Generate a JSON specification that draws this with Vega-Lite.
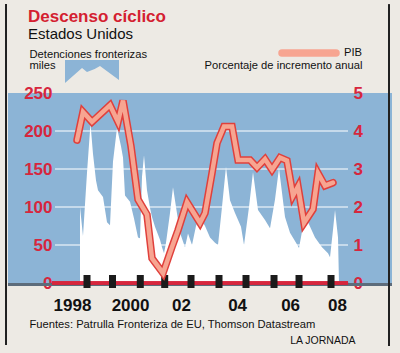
{
  "$schema": "https://vega.github.io/schema/vega-lite/v6.json",
  "width": 384,
  "height": 190,
  "autosize": {"type": "none"},
  "padding": {"left": 8, "top": 93, "right": 8, "bottom": 70},
  "background": "#edeae4",
  "config": {"view": {"fill": "#8cb4d6", "stroke": null}, "font": "Liberation Sans"},
  "title": {
    "text": "Descenso cíclico",
    "subtitle": "Estados Unidos",
    "anchor": "start",
    "frame": "group",
    "dx": 20,
    "offset": -39.5,
    "font": "Liberation Sans",
    "fontSize": 17,
    "fontWeight": "bold",
    "color": "#d42030",
    "subtitleFont": "Liberation Sans",
    "subtitleFontSize": 15,
    "subtitleColor": "#111111",
    "subtitlePadding": 1
  },
  "datasets": {
    "det": [
      {"t": 1998.302, "det": 100}, {"t": 1998.415, "det": 62}, {"t": 1998.566, "det": 145},
      {"t": 1998.698, "det": 210}, {"t": 1998.792, "det": 170}, {"t": 1998.906, "det": 135},
      {"t": 1998.981, "det": 122}, {"t": 1999.170, "det": 113}, {"t": 1999.321, "det": 80},
      {"t": 1999.434, "det": 76}, {"t": 1999.547, "det": 160}, {"t": 1999.698, "det": 204},
      {"t": 1999.849, "det": 180}, {"t": 1999.925, "det": 165}, {"t": 2000.000, "det": 115},
      {"t": 2000.189, "det": 107}, {"t": 2000.340, "det": 85}, {"t": 2000.491, "det": 60},
      {"t": 2000.566, "det": 59}, {"t": 2000.642, "det": 140}, {"t": 2000.717, "det": 168},
      {"t": 2000.830, "det": 122}, {"t": 2000.943, "det": 99}, {"t": 2001.019, "det": 87},
      {"t": 2001.132, "det": 74}, {"t": 2001.321, "det": 57}, {"t": 2001.396, "det": 47},
      {"t": 2001.472, "det": 39}, {"t": 2001.547, "det": 53}, {"t": 2001.698, "det": 92},
      {"t": 2001.811, "det": 126}, {"t": 2001.925, "det": 100}, {"t": 2002.075, "det": 66},
      {"t": 2002.264, "det": 47}, {"t": 2002.377, "det": 65}, {"t": 2002.528, "det": 50},
      {"t": 2002.679, "det": 75}, {"t": 2002.830, "det": 87}, {"t": 2003.019, "det": 75},
      {"t": 2003.208, "det": 60}, {"t": 2003.396, "det": 53}, {"t": 2003.509, "det": 50},
      {"t": 2003.660, "det": 100}, {"t": 2003.811, "det": 153}, {"t": 2003.962, "det": 109},
      {"t": 2004.151, "det": 92}, {"t": 2004.377, "det": 74}, {"t": 2004.491, "det": 50},
      {"t": 2004.679, "det": 100}, {"t": 2004.830, "det": 146}, {"t": 2005.019, "det": 96},
      {"t": 2005.283, "det": 83}, {"t": 2005.472, "det": 72}, {"t": 2005.660, "det": 110},
      {"t": 2005.811, "det": 151}, {"t": 2006.038, "det": 87}, {"t": 2006.226, "det": 66},
      {"t": 2006.453, "det": 53}, {"t": 2006.566, "det": 46}, {"t": 2006.717, "det": 75},
      {"t": 2006.868, "det": 83}, {"t": 2007.170, "det": 60}, {"t": 2007.434, "det": 47},
      {"t": 2007.660, "det": 39}, {"t": 2007.736, "det": 34}, {"t": 2007.849, "det": 70},
      {"t": 2007.925, "det": 96}, {"t": 2008.038, "det": 60}, {"t": 2008.075, "det": 0}
    ],
    "pib": [
      {"t": 1998.189, "gdp": 3.76}, {"t": 1998.415, "gdp": 4.5}, {"t": 1998.755, "gdp": 4.24},
      {"t": 1999.434, "gdp": 4.68}, {"t": 1999.736, "gdp": 4.24}, {"t": 1999.925, "gdp": 4.8},
      {"t": 2000.226, "gdp": 3.6}, {"t": 2000.491, "gdp": 2.2}, {"t": 2000.830, "gdp": 1.8},
      {"t": 2001.019, "gdp": 0.65}, {"t": 2001.434, "gdp": 0.26}, {"t": 2001.774, "gdp": 0.95},
      {"t": 2002.000, "gdp": 1.39}, {"t": 2002.340, "gdp": 2.13}, {"t": 2002.830, "gdp": 1.58},
      {"t": 2003.019, "gdp": 1.84}, {"t": 2003.283, "gdp": 2.89}, {"t": 2003.472, "gdp": 3.68},
      {"t": 2003.736, "gdp": 4.12}, {"t": 2004.038, "gdp": 4.12}, {"t": 2004.264, "gdp": 3.24},
      {"t": 2004.717, "gdp": 3.24}, {"t": 2004.981, "gdp": 3.04}, {"t": 2005.283, "gdp": 3.26},
      {"t": 2005.547, "gdp": 2.98}, {"t": 2005.849, "gdp": 3.3}, {"t": 2006.113, "gdp": 3.22},
      {"t": 2006.340, "gdp": 2.3}, {"t": 2006.528, "gdp": 2.54}, {"t": 2006.755, "gdp": 1.58},
      {"t": 2007.094, "gdp": 1.94}, {"t": 2007.283, "gdp": 2.89}, {"t": 2007.547, "gdp": 2.56},
      {"t": 2007.849, "gdp": 2.64}
    ],
    "grid": [{"g": 50}, {"g": 100}, {"g": 150}, {"g": 200}],
    "ticks": [
      {"t": 1998.566}, {"t": 1999.528}, {"t": 2000.577}, {"t": 2001.498}, {"t": 2002.491},
      {"t": 2003.547}, {"t": 2004.566}, {"t": 2005.623}, {"t": 2006.566}, {"t": 2007.774}
    ]
  },
  "layer": [
    {
      "data": {"name": "det"},
      "mark": {"type": "area", "color": "#ffffff", "interpolate": "linear", "strokeWidth": 0},
      "encoding": {
        "x": {
          "field": "t", "type": "quantitative",
          "scale": {"domain": [1995.585, 2010.075], "nice": false, "zero": false},
          "axis": {
            "orient": "bottom",
            "values": [1998, 2000.19, 2002.11, 2004.23, 2006.23, 2008.0],
            "labelExpr": "datum.value < 1999 ? '1998' : datum.value < 2001 ? '2000' : datum.value < 2003 ? '02' : datum.value < 2005 ? '04' : datum.value < 2007 ? '06' : '08'",
            "labelFontSize": 17, "labelFontWeight": "bold", "labelColor": "#111111",
            "labelPadding": 14, "labelFlush": false, "labelOverlap": false,
            "ticks": false, "tickSize": 0, "domain": false, "grid": false,
            "title": "Fuentes: Patrulla Fronteriza de EU, Thomson Datastream",
            "titleX": 21, "titleY": 44.5, "titleAlign": "left", "titleBaseline": "alphabetic",
            "titleFontSize": 11.2, "titleFontWeight": "normal", "titleColor": "#111111"
          }
        },
        "y": {
          "field": "det", "type": "quantitative",
          "scale": {"domain": [0, 250], "nice": false},
          "axis": {
            "orient": "left", "offset": -48,
            "values": [0, 50, 100, 150, 200, 250],
            "labelFontSize": 17, "labelFontWeight": "bold", "labelColor": "#d7263d",
            "labelPadding": 4, "labelFlush": false, "labelOverlap": false,
            "ticks": false, "domain": false, "grid": false,
            "title": ["Detenciones fronterizas", "miles"],
            "titleAngle": 0, "titleAlign": "left", "titleBaseline": "alphabetic",
            "titleX": -27, "titleY": -36, "titleLineHeight": 11.5,
            "titleFontSize": 11.2, "titleFontWeight": "normal", "titleColor": "#111111"
          }
        },
        "stroke": {
          "datum": "Detenciones fronterizas",
          "scale": {"range": ["#8cb4d6"]},
          "legend": {
            "orient": "none", "legendX": 57, "legendY": -45.5, "title": null, "padding": 0,
            "labelExpr": "''",
            "symbolType": "M-1,-0.537L1,-0.537L1,0.204L0.296,-0.315L0.1,-0.2L-0.185,-0.093L-0.37,-0.24L-1,0.315Z",
            "symbolSize": 2916,
            "encoding": {"symbols": {"fill": {"value": "#8cb4d6"}, "strokeWidth": {"value": 0}, "opacity": {"value": 1}}}
          }
        }
      }
    },
    {
      "data": {"name": "grid"},
      "mark": {"type": "rule", "color": "#ffffff", "strokeWidth": 1.2},
      "encoding": {
        "y": {"field": "g", "type": "quantitative", "scale": {"domain": [0, 250], "nice": false}, "axis": null},
        "x": {"datum": 1997.358, "scale": {"domain": [1995.585, 2010.075], "nice": false, "zero": false}, "axis": null},
        "x2": {"datum": 2008.415}
      }
    },
    {
      "data": {"name": "ticks"},
      "mark": {"type": "rule", "color": "#5d6c7b", "strokeWidth": 3, "yOffset": 1.5},
      "encoding": {
        "y": {"datum": 0, "scale": {"domain": [0, 250], "nice": false}, "axis": null}
      }
    },
    {
      "data": {"name": "ticks"},
      "mark": {"type": "rule", "color": "#d7263d", "strokeWidth": 2.5},
      "encoding": {
        "y": {"datum": 0, "scale": {"domain": [0, 250], "nice": false}, "axis": null},
        "x": {"datum": 1997.245, "scale": {"domain": [1995.585, 2010.075], "nice": false, "zero": false}, "axis": null},
        "x2": {"datum": 2008.415}
      }
    },
    {
      "data": {"name": "ticks"},
      "mark": {"type": "rule", "color": "#222222", "strokeWidth": 1.5},
      "encoding": {
        "x": {"datum": 1995.509, "scale": {"domain": [1995.585, 2010.075], "nice": false, "zero": false}, "axis": null},
        "y": {"datum": 367, "scale": {"domain": [0, 250], "nice": false}, "axis": null},
        "y2": {"datum": -81.6}
      }
    },
    {
      "data": {"name": "ticks"},
      "mark": {"type": "rule", "color": "#222222", "strokeWidth": 1.5},
      "encoding": {
        "x": {"datum": 2009.962, "scale": {"domain": [1995.585, 2010.075], "nice": false, "zero": false}, "axis": null},
        "y": {"datum": 366, "scale": {"domain": [0, 250], "nice": false}, "axis": null},
        "y2": {"datum": -83}
      }
    },
    {
      "data": {"name": "ticks"},
      "mark": {"type": "tick", "color": "#1b1b1b", "orient": "vertical", "size": 13, "thickness": 7, "yOffset": -1.5, "opacity": 1},
      "encoding": {
        "x": {"field": "t", "type": "quantitative", "scale": {"domain": [1995.585, 2010.075], "nice": false, "zero": false}, "axis": null},
        "y": {"datum": 0, "scale": {"domain": [0, 250], "nice": false}, "axis": null}
      }
    },
    {
      "data": {"name": "pib"},
      "mark": {"type": "line", "color": "#e0403c", "strokeWidth": 7.5, "strokeCap": "round"},
      "encoding": {
        "x": {
          "field": "t", "type": "quantitative",
          "scale": {"domain": [1995.585, 2010.075], "nice": false, "zero": false},
          "axis": {
            "orient": "top", "labels": false, "ticks": false, "domain": false, "grid": false,
            "title": "LA JORNADA", "titleX": 347, "titleY": 250.3, "titleAlign": "right",
            "titleBaseline": "alphabetic", "titleFontSize": 10.5, "titleFontWeight": "normal",
            "titleColor": "#111111"
          }
        },
        "y": {
          "field": "gdp", "type": "quantitative",
          "scale": {"domain": [0, 5], "nice": false},
          "axis": {
            "orient": "right", "offset": -44,
            "values": [0, 1, 2, 3, 4, 5],
            "labelFontSize": 17, "labelFontWeight": "bold", "labelColor": "#d7263d",
            "labelPadding": 5, "labelFlush": false, "labelOverlap": false,
            "ticks": false, "domain": false, "grid": false,
            "title": "Porcentaje de incremento anual",
            "titleAngle": 0, "titleAlign": "right", "titleBaseline": "alphabetic",
            "titleX": 14, "titleY": -24.5,
            "titleFontSize": 11.2, "titleFontWeight": "normal", "titleColor": "#111111"
          }
        }
      }
    },
    {
      "data": {"name": "pib"},
      "mark": {"type": "line", "strokeWidth": 4.5, "strokeCap": "round"},
      "encoding": {
        "x": {"field": "t", "type": "quantitative", "scale": {"domain": [1995.585, 2010.075], "nice": false, "zero": false}, "axis": null},
        "y": {"field": "gdp", "type": "quantitative", "scale": {"domain": [0, 5], "nice": false}, "axis": null},
        "stroke": {
          "datum": "PIB",
          "scale": {"range": ["#f7a591"]},
          "legend": {
            "orient": "none", "legendX": 270, "legendY": -71, "title": null, "padding": 0,
            "symbolType": "M-0.9,-0.1L0.9,-0.1A0.1,0.1 0 0 1 0.9,0.1L-0.9,0.1A0.1,0.1 0 0 1 -0.9,-0.1Z",
            "symbolSize": 3600, "labelFontSize": 11.2, "labelColor": "#111111", "labelOffset": 4,
            "encoding": {"symbols": {"fill": {"value": "#f7a591"}, "stroke": {"value": "#e0403c"}, "strokeWidth": {"value": 1.5}, "opacity": {"value": 1}}}
          }
        }
      }
    }
  ],
  "resolve": {
    "scale": {"x": "independent", "y": "independent", "stroke": "independent"},
    "axis": {"x": "independent", "y": "independent"},
    "legend": {"stroke": "independent"}
  }
}
